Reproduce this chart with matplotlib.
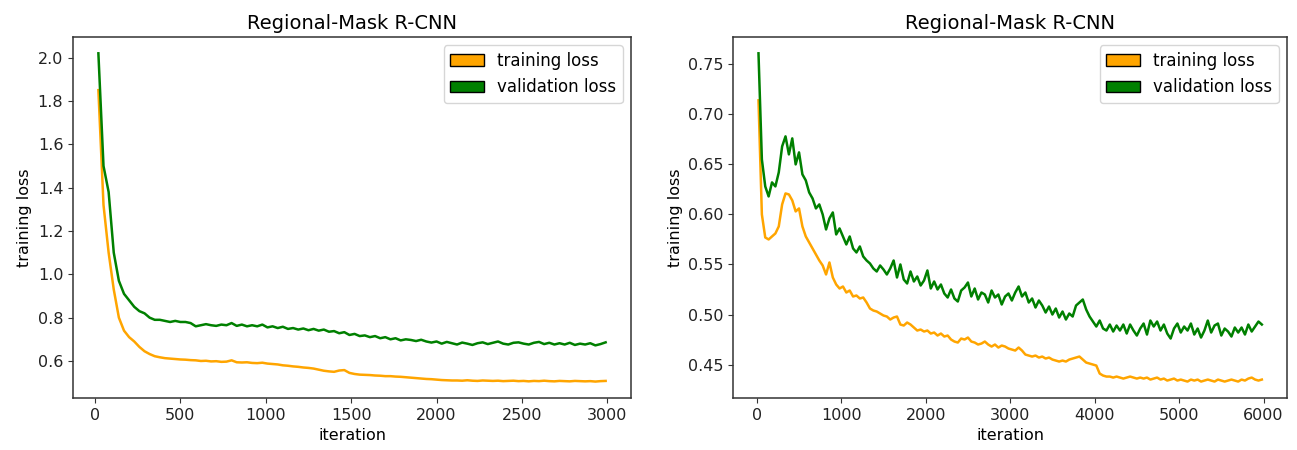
"""Regional-Mask R-CNN training / validation loss curves (two runs)."""
import matplotlib
matplotlib.use('Agg')
import matplotlib.pyplot as plt
import numpy as np
from matplotlib.patches import Patch

# left run: 3000 iterations, one reading every 30 iterations
left_train = [
    1.85, 1.32, 1.10, 0.93, 0.80, 0.74, 0.71, 0.69, 0.665, 0.645,
    0.632, 0.622, 0.617, 0.613, 0.611, 0.609, 0.607, 0.606, 0.604, 0.603,
    0.600, 0.601, 0.598, 0.599, 0.596, 0.597, 0.603, 0.594, 0.593, 0.594,
    0.591, 0.590, 0.592, 0.588, 0.586, 0.584, 0.580, 0.578, 0.575, 0.573,
    0.570, 0.568, 0.565, 0.560, 0.555, 0.552, 0.550, 0.556, 0.558, 0.545,
    0.540, 0.537, 0.536, 0.535, 0.533, 0.532, 0.530, 0.530, 0.528, 0.527,
    0.525, 0.523, 0.521, 0.519, 0.517, 0.516, 0.514, 0.512, 0.511, 0.510,
    0.510, 0.509, 0.511, 0.509, 0.508, 0.510, 0.509, 0.508, 0.509, 0.507,
    0.508, 0.509, 0.507, 0.508, 0.506, 0.508, 0.507, 0.509, 0.507, 0.506,
    0.508, 0.507, 0.506, 0.508, 0.507, 0.506, 0.507, 0.505, 0.507, 0.508,
]
left_val = [
    2.02, 1.50, 1.38, 1.10, 0.97, 0.91, 0.88, 0.85, 0.83, 0.82,
    0.80, 0.79, 0.79, 0.785, 0.78, 0.785, 0.78, 0.78, 0.775, 0.76,
    0.765, 0.77, 0.765, 0.762, 0.768, 0.765, 0.775, 0.762, 0.768, 0.760,
    0.765, 0.760, 0.768, 0.755, 0.760, 0.752, 0.758, 0.748, 0.752, 0.745,
    0.750, 0.742, 0.748, 0.740, 0.745, 0.735, 0.738, 0.728, 0.733, 0.720,
    0.725, 0.715, 0.718, 0.710, 0.715, 0.705, 0.710, 0.700, 0.705, 0.695,
    0.700, 0.697, 0.692, 0.698, 0.690, 0.685, 0.690, 0.680, 0.688, 0.682,
    0.676, 0.685, 0.680, 0.674, 0.682, 0.686, 0.678, 0.684, 0.690, 0.680,
    0.676, 0.684, 0.686, 0.680, 0.676, 0.684, 0.688, 0.678, 0.684, 0.676,
    0.682, 0.676, 0.684, 0.674, 0.680, 0.676, 0.682, 0.672, 0.678, 0.686,
]

# right run: 6000 iterations, one reading every 40 iterations
right_train = [
    0.714, 0.600, 0.577, 0.575, 0.578, 0.581, 0.588, 0.610, 0.621, 0.620,
    0.614, 0.603, 0.606, 0.588, 0.578, 0.572, 0.566, 0.560, 0.554, 0.549,
    0.540, 0.552, 0.537, 0.530, 0.526, 0.528, 0.522, 0.524, 0.518, 0.519,
    0.516, 0.517, 0.512, 0.506, 0.504, 0.503, 0.501, 0.499, 0.498, 0.495,
    0.497, 0.498, 0.490, 0.489, 0.492, 0.490, 0.487, 0.484, 0.485, 0.483,
    0.484, 0.481, 0.482, 0.479, 0.481, 0.478, 0.479, 0.475, 0.473, 0.472,
    0.476, 0.475, 0.477, 0.473, 0.472, 0.470, 0.471, 0.473, 0.470, 0.468,
    0.470, 0.467, 0.469, 0.468, 0.466, 0.465, 0.464, 0.467, 0.464, 0.460,
    0.459, 0.458, 0.459, 0.457, 0.458, 0.456, 0.457, 0.455, 0.454, 0.453,
    0.454, 0.453, 0.455, 0.456, 0.457, 0.458, 0.455, 0.452, 0.451, 0.450,
    0.449, 0.441, 0.439, 0.438, 0.438, 0.437, 0.438, 0.437, 0.436, 0.437,
    0.438, 0.437, 0.436, 0.437, 0.436, 0.437, 0.435, 0.436, 0.437, 0.435,
    0.436, 0.434, 0.435, 0.436, 0.434, 0.435, 0.434, 0.433, 0.435, 0.434,
    0.435, 0.433, 0.434, 0.435, 0.434, 0.433, 0.435, 0.434, 0.433, 0.434,
    0.435, 0.434, 0.433, 0.435, 0.434, 0.436, 0.437, 0.435, 0.434, 0.435,
]
right_val = [
    0.761, 0.655, 0.628, 0.618, 0.632, 0.628, 0.642, 0.668, 0.678, 0.660,
    0.676, 0.650, 0.662, 0.640, 0.634, 0.622, 0.616, 0.606, 0.610, 0.600,
    0.585, 0.596, 0.602, 0.580, 0.586, 0.578, 0.570, 0.578, 0.566, 0.562,
    0.568, 0.558, 0.554, 0.551, 0.546, 0.543, 0.549, 0.545, 0.540, 0.546,
    0.554, 0.537, 0.550, 0.535, 0.531, 0.543, 0.533, 0.538, 0.529, 0.534,
    0.544, 0.526, 0.533, 0.525, 0.530, 0.521, 0.517, 0.525, 0.516, 0.513,
    0.524, 0.527, 0.532, 0.518, 0.526, 0.515, 0.522, 0.520, 0.512, 0.524,
    0.517, 0.520, 0.510, 0.518, 0.521, 0.514, 0.522, 0.528, 0.518, 0.522,
    0.512, 0.516, 0.507, 0.514, 0.509, 0.502, 0.508, 0.500, 0.506, 0.497,
    0.503, 0.495, 0.501, 0.498, 0.509, 0.512, 0.515, 0.505, 0.498, 0.493,
    0.488, 0.494, 0.486, 0.484, 0.490, 0.483, 0.489, 0.484, 0.490, 0.481,
    0.490, 0.484, 0.479, 0.486, 0.491, 0.480, 0.494, 0.488, 0.493, 0.484,
    0.490, 0.481, 0.476, 0.486, 0.491, 0.482, 0.488, 0.484, 0.491, 0.480,
    0.486, 0.477, 0.484, 0.494, 0.482, 0.489, 0.491, 0.479, 0.486, 0.483,
    0.478, 0.487, 0.482, 0.487, 0.480, 0.490, 0.483, 0.488, 0.493, 0.490,
]

TRAIN_C = 'orange'
VAL_C = 'green'
TITLE = 'Regional-Mask R-CNN'


def iters(vals, start, step):
    return start + step * np.arange(len(vals))


def draw(ax, train, val, start, step):
    ax.plot(iters(train, start, step), train, color=TRAIN_C, linewidth=1.8)
    ax.plot(iters(val, start, step), val, color=VAL_C, linewidth=1.8)
    ax.set_title(TITLE, fontsize=14)
    ax.set_xlabel('iteration', fontsize=11.5)
    ax.set_ylabel('training loss', fontsize=11.5)
    ax.tick_params(labelsize=11.5, color='#333333', labelcolor='#222222')
    for s in ax.spines.values():
        s.set_color('#333333')
        s.set_linewidth(1.1)
    handles = [Patch(facecolor=TRAIN_C, edgecolor='black', label='training loss'),
               Patch(facecolor=VAL_C, edgecolor='black', label='validation loss')]
    ax.legend(handles=handles, loc='upper right', fontsize=12)


def main():
    fig = plt.figure(figsize=(12.97, 4.5), dpi=100)
    ax1 = fig.add_axes([0.0563, 0.1156, 0.4302, 0.8024])
    ax2 = fig.add_axes([0.5654, 0.1156, 0.4269, 0.8024])

    draw(ax1, left_train, left_val, 20, 30)
    draw(ax2, right_train, right_val, 20, 40)

    ax1.set_yticks([0.6, 0.8, 1.0, 1.2, 1.4, 1.6, 1.8, 2.0])
    ax2.set_yticks([0.45, 0.50, 0.55, 0.60, 0.65, 0.70, 0.75])

    fig.savefig('out.png', dpi=100)
    plt.close()


if __name__ == '__main__':
    main()
